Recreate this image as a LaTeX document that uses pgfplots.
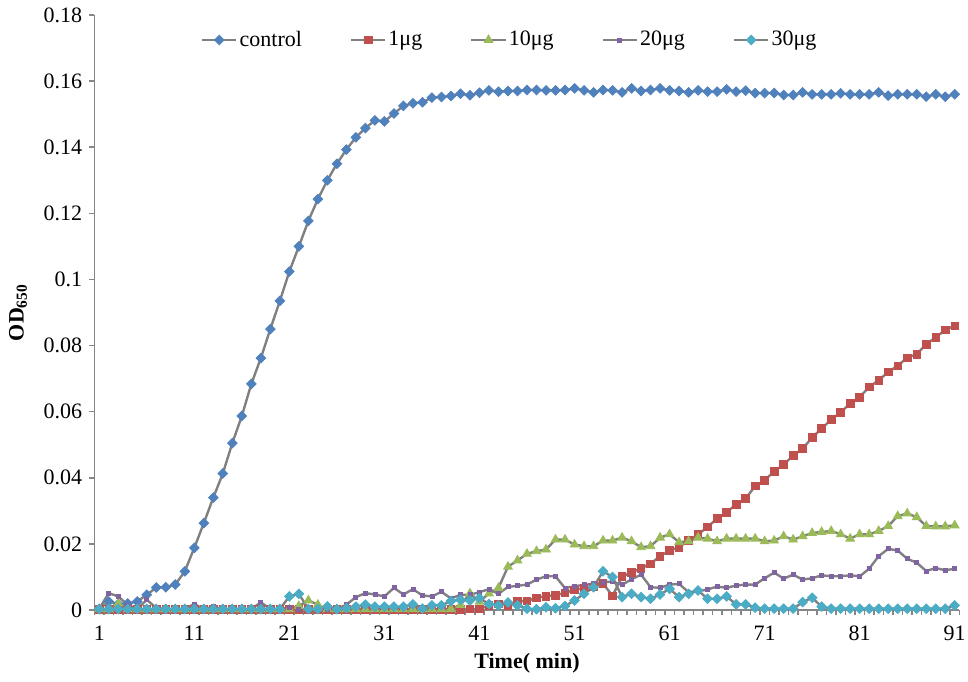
\documentclass[border=0pt]{standalone}
\usepackage{pgfplots}
\usepackage{pgfplotstable}
\usepackage{fontspec}
\setmainfont{Liberation Serif}
\pgfplotsset{compat=1.18}
\definecolor{cblue}{RGB}{79,129,189}
\definecolor{cred}{RGB}{192,80,77}
\definecolor{cgreen}{RGB}{155,187,89}
\definecolor{cpurple}{RGB}{128,100,162}
\definecolor{ccyan}{RGB}{75,172,198}
\definecolor{cline}{RGB}{128,128,128}
\definecolor{caxis}{RGB}{134,134,134}
\pgfplotstableread{
t c a b d e
1 0.0003 0.0002 0.0002 0.0004 0.0003
2 0.0026 0.0002 0.0002 0.0051 0.0003
3 0.0018 0.0002 0.0020 0.0041 0.0003
4 0.0020 0.0002 0.0002 0.0015 0.0003
5 0.0026 0.0002 0.0002 0.0003 0.0003
6 0.0046 0.0002 0.0002 0.0031 0.0003
7 0.0068 0.0002 0.0002 0.0006 0.0003
8 0.0069 0.0002 0.0002 0.0003 0.0003
9 0.0077 0.0002 0.0002 0.0003 0.0003
10 0.0117 0.0002 0.0002 0.0003 0.0003
11 0.0188 0.0002 0.0002 0.0018 0.0003
12 0.0263 0.0002 0.0002 0.0003 0.0003
13 0.0340 0.0002 0.0002 0.0010 0.0003
14 0.0413 0.0002 0.0002 0.0003 0.0003
15 0.0505 0.0002 0.0002 0.0003 0.0003
16 0.0587 0.0002 0.0002 0.0003 0.0003
17 0.0684 0.0002 0.0002 0.0003 0.0003
18 0.0762 0.0002 0.0002 0.0023 0.0003
19 0.0850 0.0002 0.0002 0.0003 0.0003
20 0.0935 0.0002 0.0002 0.0003 0.0003
21 0.1024 0.0002 0.0002 0.0008 0.0041
22 0.1100 0.0002 0.0012 0.0003 0.0049
23 0.1177 0.0002 0.0029 0.0003 0.0003
24 0.1243 0.0002 0.0016 0.0003 0.0003
25 0.1300 0.0002 0.0002 0.0003 0.0011
26 0.1350 0.0002 0.0002 0.0003 0.0003
27 0.1393 0.0002 0.0002 0.0016 0.0006
28 0.1430 0.0002 0.0002 0.0039 0.0010
29 0.1458 0.0002 0.0002 0.0051 0.0016
30 0.1481 0.0002 0.0002 0.0047 0.0010
31 0.1478 0.0002 0.0002 0.0041 0.0010
32 0.1502 0.0002 0.0002 0.0067 0.0010
33 0.1525 0.0002 0.0002 0.0047 0.0010
34 0.1533 0.0002 0.0002 0.0063 0.0017
35 0.1536 0.0002 0.0002 0.0044 0.0004
36 0.1550 0.0002 0.0002 0.0041 0.0014
37 0.1552 0.0002 0.0002 0.0055 0.0014
38 0.1555 0.0002 0.0003 0.0035 0.0027
39 0.1562 0.0002 0.0015 0.0046 0.0031
40 0.1557 0.0003 0.0050 0.0046 0.0029
41 0.1565 0.0003 0.0025 0.0054 0.0036
42 0.1572 0.0014 0.0050 0.0063 0.0018
43 0.1568 0.0019 0.0067 0.0049 0.0014
44 0.1570 0.0012 0.0131 0.0070 0.0023
45 0.1570 0.0027 0.0150 0.0073 0.0014
46 0.1573 0.0027 0.0170 0.0077 0.0004
47 0.1573 0.0037 0.0178 0.0092 0.0002
48 0.1572 0.0042 0.0183 0.0102 0.0008
49 0.1572 0.0045 0.0213 0.0102 0.0005
50 0.1573 0.0052 0.0213 0.0066 0.0012
51 0.1578 0.0061 0.0198 0.0072 0.0029
52 0.1572 0.0066 0.0193 0.0076 0.0049
53 0.1566 0.0070 0.0193 0.0079 0.0069
54 0.1573 0.0080 0.0210 0.0084 0.0117
55 0.1572 0.0043 0.0210 0.0086 0.0100
56 0.1566 0.0101 0.0219 0.0076 0.0039
57 0.1578 0.0114 0.0208 0.0093 0.0049
58 0.1570 0.0126 0.0190 0.0107 0.0039
59 0.1573 0.0140 0.0193 0.0069 0.0034
60 0.1578 0.0163 0.0219 0.0067 0.0047
61 0.1572 0.0180 0.0229 0.0077 0.0064
62 0.1570 0.0190 0.0205 0.0079 0.0039
63 0.1566 0.0210 0.0208 0.0054 0.0049
64 0.1572 0.0229 0.0219 0.0057 0.0059
65 0.1568 0.0251 0.0216 0.0062 0.0034
66 0.1568 0.0277 0.0208 0.0071 0.0034
67 0.1575 0.0295 0.0216 0.0067 0.0041
68 0.1568 0.0320 0.0216 0.0074 0.0017
69 0.1571 0.0337 0.0216 0.0077 0.0017
70 0.1564 0.0375 0.0216 0.0077 0.0007
71 0.1564 0.0392 0.0208 0.0096 0.0004
72 0.1564 0.0420 0.0210 0.0113 0.0004
73 0.1558 0.0440 0.0223 0.0095 0.0004
74 0.1558 0.0467 0.0213 0.0107 0.0004
75 0.1566 0.0488 0.0223 0.0092 0.0024
76 0.1560 0.0522 0.0233 0.0096 0.0037
77 0.1560 0.0549 0.0236 0.0105 0.0010
78 0.1560 0.0576 0.0239 0.0102 0.0004
79 0.1563 0.0598 0.0229 0.0102 0.0004
80 0.1560 0.0625 0.0216 0.0105 0.0004
81 0.1560 0.0644 0.0229 0.0102 0.0004
82 0.1560 0.0675 0.0229 0.0125 0.0004
83 0.1566 0.0695 0.0239 0.0163 0.0004
84 0.1556 0.0720 0.0254 0.0185 0.0004
85 0.1560 0.0739 0.0284 0.0180 0.0004
86 0.1560 0.0763 0.0292 0.0155 0.0004
87 0.1560 0.0774 0.0281 0.0143 0.0004
88 0.1553 0.0804 0.0254 0.0118 0.0004
89 0.1560 0.0825 0.0253 0.0127 0.0004
90 0.1553 0.0847 0.0253 0.0120 0.0004
91 0.1560 0.0860 0.0256 0.0125 0.0014
}\data
\begin{document}
\begin{tikzpicture}
\useasboundingbox (-47.25pt,-35.5pt) rectangle (436.75pt,305pt);
\begin{axis}[
  at={(0,0)}, anchor=south west,
  scale only axis, width=432.5pt, height=297.5pt,
  xmin=0.5, xmax=91.5, ymin=0, ymax=0.18,
  clip=false,
  axis x line*=bottom, axis y line*=left,
  axis line style={draw=caxis, line width=0.8pt},
  tick style={draw=caxis, line width=0.8pt},
  tick align=outside, major tick length=2.6pt,
  font=\fontsize{11}{13}\selectfont,
  /pgf/number format/assume math mode=true,
  xtick={0.5,1.5,...,91.5}, xticklabels={},
  extra x ticks={1,11,21,31,41,51,61,71,81,91},
  extra x tick labels={1,11,21,31,41,51,61,71,81,91},
  extra x tick style={tick style={draw=none}, xticklabel style={yshift=-2pt}},
  ytick={0,0.02,0.04,0.06,0.08,0.1,0.12,0.14,0.16,0.18},
  scaled y ticks=false,
  yticklabel style={/pgf/number format/fixed, /pgf/number format/precision=2},
  xlabel={\textbf{Time( min)}},
  ylabel={\textbf{OD\textsubscript{650}}},
  every axis x label/.style={at={(axis description cs:0.5,-0.089)}, anchor=center},
  every axis y label/.style={at={(axis description cs:-0.0884,0.5)}, anchor=center, rotate=90},
  legend columns=5,
  legend style={draw=none, fill=none, at={(0.48,0.958)}, anchor=center,
    font=\fontsize{11}{13}\selectfont,
    nodes={inner xsep=1pt},
    /tikz/every even column/.append style={column sep=23pt}},
  legend cell align=left,
  every axis plot/.append style={draw=cline, line width=1.2pt},
]
\addplot[mark=square*, mark size=1.7pt, mark options={rotate=45, fill=cblue, draw=cblue, line width=0.4pt}] table[x=t,y=c]{\data};
\addlegendentry{control}
\addplot[mark=square*, mark size=1.9pt, mark options={fill=cred, draw=cred, line width=0.4pt}] table[x=t,y=a]{\data};
\addlegendentry{1μg}
\addplot[mark=triangle*, mark size=2.5pt, mark options={fill=cgreen, draw=cgreen, line width=0.4pt}] table[x=t,y=b]{\data};
\addlegendentry{10μg}
\addplot[mark=square*, mark size=1.0pt, mark options={fill=cpurple, draw=cpurple, line width=0.4pt}] table[x=t,y=d]{\data};
\addlegendentry{20μg}
\addplot[mark=square*, mark size=1.7pt, mark options={rotate=45, fill=ccyan, draw=ccyan, line width=0.4pt}] table[x=t,y=e]{\data};
\addlegendentry{30μg}
\end{axis}
\end{tikzpicture}
\end{document}
